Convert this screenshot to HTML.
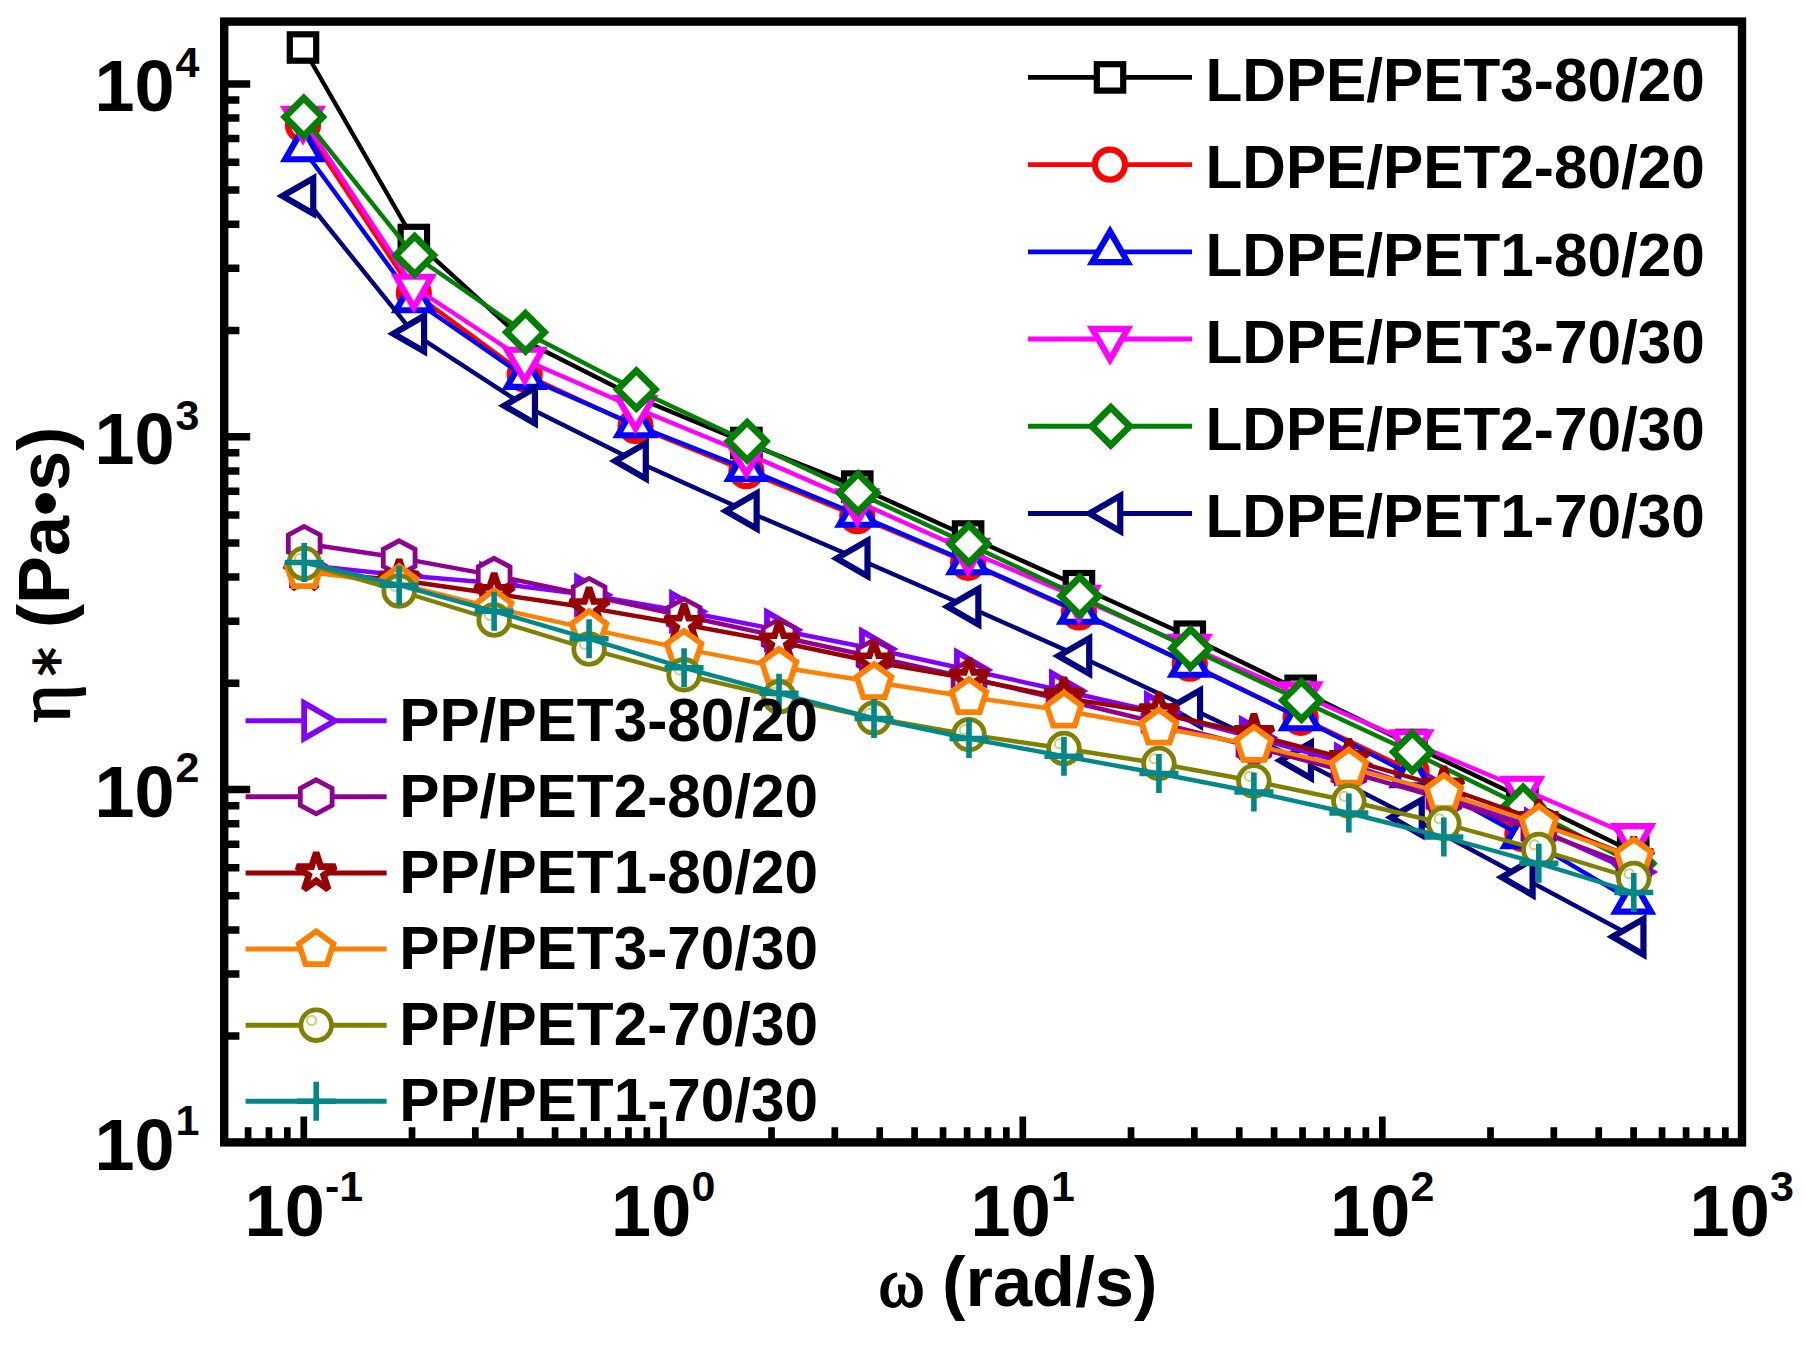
<!DOCTYPE html>
<html lang="en"><head><meta charset="utf-8"><title>Complex viscosity vs angular frequency</title>
<style>html,body{margin:0;padding:0;background:#fff}svg{display:block}text{font-family:"Liberation Sans",Arial,Helvetica,sans-serif;font-weight:700;fill:#000}.t{font-size:72px}.s{font-size:43px}.l{font-size:60.3px}.sym{font-family:"Liberation Serif","DejaVu Serif",serif;font-weight:400;stroke:#000;stroke-linejoin:round}.ast{font-family:"DejaVu Sans",sans-serif;font-weight:400;stroke:#000}</style></head><body>
<svg width="1804" height="1346" viewBox="0 0 1804 1346">
<rect width="1804" height="1346" fill="#fff"/>
<g stroke-linejoin="miter" stroke-linecap="butt">
<polyline points="303,47.5 413.85,240 524.7,341 635.55,397 746.4,443 857.25,486.6 968.1,536.5 1078.95,586.2 1189.8,636.7 1300.65,690.8 1411.5,745 1522.35,798 1633.2,852" fill="none" stroke="#000000" stroke-width="4.4" stroke-linejoin="round"/>
<rect x="289.8" y="34.3" width="26.4" height="26.4" fill="#fff" stroke="#000000" stroke-width="6.2"/>
<rect x="400.65" y="226.8" width="26.4" height="26.4" fill="#fff" stroke="#000000" stroke-width="6.2"/>
<rect x="733.2" y="429.8" width="26.4" height="26.4" fill="#fff" stroke="#000000" stroke-width="6.2"/>
<rect x="844.05" y="473.4" width="26.4" height="26.4" fill="#fff" stroke="#000000" stroke-width="6.2"/>
<rect x="954.9" y="523.3" width="26.4" height="26.4" fill="#fff" stroke="#000000" stroke-width="6.2"/>
<rect x="1065.75" y="573" width="26.4" height="26.4" fill="#fff" stroke="#000000" stroke-width="6.2"/>
<rect x="1176.6" y="623.5" width="26.4" height="26.4" fill="#fff" stroke="#000000" stroke-width="6.2"/>
<rect x="1287.45" y="677.6" width="26.4" height="26.4" fill="#fff" stroke="#000000" stroke-width="6.2"/>
<rect x="1398.3" y="731.8" width="26.4" height="26.4" fill="#fff" stroke="#000000" stroke-width="6.2"/>
<rect x="1509.15" y="784.8" width="26.4" height="26.4" fill="#fff" stroke="#000000" stroke-width="6.2"/>
<rect x="1620" y="838.8" width="26.4" height="26.4" fill="#fff" stroke="#000000" stroke-width="6.2"/>
<polyline points="303,125 413.85,293 524.7,374.5 635.55,426 746.4,471.2 857.25,516.2 968.1,562.8 1078.95,612.4 1189.8,663.7 1300.65,717.8 1411.5,771 1522.35,834" fill="none" stroke="#ff0000" stroke-width="4.4" stroke-linejoin="round"/>
<circle cx="303" cy="125" r="15" fill="#fff" stroke="#ff0000" stroke-width="6.2"/>
<circle cx="413.85" cy="293" r="15" fill="#fff" stroke="#ff0000" stroke-width="6.2"/>
<circle cx="524.7" cy="374.5" r="15" fill="#fff" stroke="#ff0000" stroke-width="6.2"/>
<circle cx="635.55" cy="426" r="15" fill="#fff" stroke="#ff0000" stroke-width="6.2"/>
<circle cx="746.4" cy="471.2" r="15" fill="#fff" stroke="#ff0000" stroke-width="6.2"/>
<circle cx="857.25" cy="516.2" r="15" fill="#fff" stroke="#ff0000" stroke-width="6.2"/>
<circle cx="968.1" cy="562.8" r="15" fill="#fff" stroke="#ff0000" stroke-width="6.2"/>
<circle cx="1078.95" cy="612.4" r="15" fill="#fff" stroke="#ff0000" stroke-width="6.2"/>
<circle cx="1189.8" cy="663.7" r="15" fill="#fff" stroke="#ff0000" stroke-width="6.2"/>
<circle cx="1300.65" cy="717.8" r="15" fill="#fff" stroke="#ff0000" stroke-width="6.2"/>
<circle cx="1411.5" cy="771" r="15" fill="#fff" stroke="#ff0000" stroke-width="6.2"/>
<circle cx="1522.35" cy="834" r="15" fill="#fff" stroke="#ff0000" stroke-width="6.2"/>
<polyline points="303,149 413.85,300 524.7,376.7 635.55,425 746.4,468.7 857.25,514.5 968.1,562 1078.95,611.5 1189.8,664.5 1300.65,718 1411.5,775 1522.35,836 1633.2,901.3" fill="none" stroke="#0000ff" stroke-width="4.4" stroke-linejoin="round"/>
<polygon points="303,128.5 320.75,159.25 285.25,159.25" fill="#fff" stroke="#0000ff" stroke-width="6.2"/>
<polygon points="413.85,279.5 431.6,310.25 396.1,310.25" fill="#fff" stroke="#0000ff" stroke-width="6.2"/>
<polygon points="524.7,356.2 542.45,386.95 506.95,386.95" fill="#fff" stroke="#0000ff" stroke-width="6.2"/>
<polygon points="635.55,404.5 653.3,435.25 617.8,435.25" fill="#fff" stroke="#0000ff" stroke-width="6.2"/>
<polygon points="746.4,448.2 764.15,478.95 728.65,478.95" fill="#fff" stroke="#0000ff" stroke-width="6.2"/>
<polygon points="857.25,494 875,524.75 839.5,524.75" fill="#fff" stroke="#0000ff" stroke-width="6.2"/>
<polygon points="968.1,541.5 985.85,572.25 950.35,572.25" fill="#fff" stroke="#0000ff" stroke-width="6.2"/>
<polygon points="1078.95,591 1096.7,621.75 1061.2,621.75" fill="#fff" stroke="#0000ff" stroke-width="6.2"/>
<polygon points="1189.8,644 1207.55,674.75 1172.05,674.75" fill="#fff" stroke="#0000ff" stroke-width="6.2"/>
<polygon points="1300.65,697.5 1318.4,728.25 1282.9,728.25" fill="#fff" stroke="#0000ff" stroke-width="6.2"/>
<polygon points="1411.5,754.5 1429.25,785.25 1393.75,785.25" fill="#fff" stroke="#0000ff" stroke-width="6.2"/>
<polygon points="1522.35,815.5 1540.1,846.25 1504.6,846.25" fill="#fff" stroke="#0000ff" stroke-width="6.2"/>
<polygon points="1633.2,880.8 1650.95,911.55 1615.45,911.55" fill="#fff" stroke="#0000ff" stroke-width="6.2"/>
<polyline points="303,119 413.85,287 524.7,360 635.55,408 746.4,453.5 857.25,501.5 968.1,551 1078.95,598 1189.8,647 1300.65,694.7 1411.5,742.5 1522.35,789 1633.2,836.4" fill="none" stroke="#ff00ff" stroke-width="4.4" stroke-linejoin="round"/>
<polygon points="303,139.5 285.25,108.75 320.75,108.75" fill="#fff" stroke="#ff00ff" stroke-width="6.2"/>
<polygon points="413.85,307.5 396.1,276.75 431.6,276.75" fill="#fff" stroke="#ff00ff" stroke-width="6.2"/>
<polygon points="524.7,380.5 506.95,349.75 542.45,349.75" fill="#fff" stroke="#ff00ff" stroke-width="6.2"/>
<polygon points="635.55,428.5 617.8,397.75 653.3,397.75" fill="#fff" stroke="#ff00ff" stroke-width="6.2"/>
<polygon points="746.4,474 728.65,443.25 764.15,443.25" fill="#fff" stroke="#ff00ff" stroke-width="6.2"/>
<polygon points="857.25,522 839.5,491.25 875,491.25" fill="#fff" stroke="#ff00ff" stroke-width="6.2"/>
<polygon points="968.1,571.5 950.35,540.75 985.85,540.75" fill="#fff" stroke="#ff00ff" stroke-width="6.2"/>
<polygon points="1078.95,618.5 1061.2,587.75 1096.7,587.75" fill="#fff" stroke="#ff00ff" stroke-width="6.2"/>
<polygon points="1189.8,667.5 1172.05,636.75 1207.55,636.75" fill="#fff" stroke="#ff00ff" stroke-width="6.2"/>
<polygon points="1300.65,715.2 1282.9,684.45 1318.4,684.45" fill="#fff" stroke="#ff00ff" stroke-width="6.2"/>
<polygon points="1411.5,763 1393.75,732.25 1429.25,732.25" fill="#fff" stroke="#ff00ff" stroke-width="6.2"/>
<polygon points="1522.35,809.5 1504.6,778.75 1540.1,778.75" fill="#fff" stroke="#ff00ff" stroke-width="6.2"/>
<polygon points="1633.2,856.9 1615.45,826.15 1650.95,826.15" fill="#fff" stroke="#ff00ff" stroke-width="6.2"/>
<polyline points="303,117 413.85,255.3 524.7,332.3 635.55,389.6 746.4,441.2 857.25,492.7 968.1,544 1078.95,596 1189.8,648.3 1300.65,700.5 1411.5,752 1522.35,806 1633.2,863.5" fill="none" stroke="#008000" stroke-width="4.4" stroke-linejoin="round"/>
<polygon points="303.8,98.1 322.7,117 303.8,135.9 284.9,117" fill="#fff" stroke="#008000" stroke-width="6.8"/>
<polygon points="414.65,236.4 433.55,255.3 414.65,274.2 395.75,255.3" fill="#fff" stroke="#008000" stroke-width="6.8"/>
<polygon points="525.5,313.4 544.4,332.3 525.5,351.2 506.6,332.3" fill="#fff" stroke="#008000" stroke-width="6.8"/>
<polygon points="636.35,370.7 655.25,389.6 636.35,408.5 617.45,389.6" fill="#fff" stroke="#008000" stroke-width="6.8"/>
<polygon points="747.2,422.3 766.1,441.2 747.2,460.1 728.3,441.2" fill="#fff" stroke="#008000" stroke-width="6.8"/>
<polygon points="858.05,473.8 876.95,492.7 858.05,511.6 839.15,492.7" fill="#fff" stroke="#008000" stroke-width="6.8"/>
<polygon points="968.9,525.1 987.8,544 968.9,562.9 950,544" fill="#fff" stroke="#008000" stroke-width="6.8"/>
<polygon points="1079.75,577.1 1098.65,596 1079.75,614.9 1060.85,596" fill="#fff" stroke="#008000" stroke-width="6.8"/>
<polygon points="1190.6,629.4 1209.5,648.3 1190.6,667.2 1171.7,648.3" fill="#fff" stroke="#008000" stroke-width="6.8"/>
<polygon points="1301.45,681.6 1320.35,700.5 1301.45,719.4 1282.55,700.5" fill="#fff" stroke="#008000" stroke-width="6.8"/>
<polygon points="1412.3,733.1 1431.2,752 1412.3,770.9 1393.4,752" fill="#fff" stroke="#008000" stroke-width="6.8"/>
<polygon points="1523.15,787.1 1542.05,806 1523.15,824.9 1504.25,806" fill="#fff" stroke="#008000" stroke-width="6.8"/>
<polygon points="1634,844.6 1652.9,863.5 1634,882.4 1615.1,863.5" fill="#fff" stroke="#008000" stroke-width="6.8"/>
<polyline points="303,196 413.85,333.7 524.7,405.7 635.55,461 746.4,511 857.25,558.4 968.1,606.7 1078.95,656 1189.8,708 1300.65,760.5 1411.5,817.5 1522.35,877.3 1633.2,936.8" fill="none" stroke="#000080" stroke-width="4.4" stroke-linejoin="round"/>
<polygon points="282.5,196 313.25,178.25 313.25,213.75" fill="#fff" stroke="#000080" stroke-width="6.2"/>
<polygon points="393.35,333.7 424.1,315.95 424.1,351.45" fill="#fff" stroke="#000080" stroke-width="6.2"/>
<polygon points="504.2,405.7 534.95,387.95 534.95,423.45" fill="#fff" stroke="#000080" stroke-width="6.2"/>
<polygon points="615.05,461 645.8,443.25 645.8,478.75" fill="#fff" stroke="#000080" stroke-width="6.2"/>
<polygon points="725.9,511 756.65,493.25 756.65,528.75" fill="#fff" stroke="#000080" stroke-width="6.2"/>
<polygon points="836.75,558.4 867.5,540.65 867.5,576.15" fill="#fff" stroke="#000080" stroke-width="6.2"/>
<polygon points="947.6,606.7 978.35,588.95 978.35,624.45" fill="#fff" stroke="#000080" stroke-width="6.2"/>
<polygon points="1058.45,656 1089.2,638.25 1089.2,673.75" fill="#fff" stroke="#000080" stroke-width="6.2"/>
<polygon points="1169.3,708 1200.05,690.25 1200.05,725.75" fill="#fff" stroke="#000080" stroke-width="6.2"/>
<polygon points="1280.15,760.5 1310.9,742.75 1310.9,778.25" fill="#fff" stroke="#000080" stroke-width="6.2"/>
<polygon points="1391,817.5 1421.75,799.75 1421.75,835.25" fill="#fff" stroke="#000080" stroke-width="6.2"/>
<polygon points="1501.85,877.3 1532.6,859.55 1532.6,895.05" fill="#fff" stroke="#000080" stroke-width="6.2"/>
<polygon points="1612.7,936.8 1643.45,919.05 1643.45,954.55" fill="#fff" stroke="#000080" stroke-width="6.2"/>
<polyline points="304.2,565 399.17,575 494.14,583 589.11,595 684.08,611.5 779.05,630 874.02,649 968.99,670 1063.96,691 1158.93,712.5 1253.9,737.5 1348.87,764 1443.84,796 1538.81,829 1633.78,872" fill="none" stroke="#8000ff" stroke-width="4.4" stroke-linejoin="round"/>
<polygon points="322.9,565 292.15,582.75 292.15,547.25" fill="#fff" stroke="#8000ff" stroke-width="5.8"/>
<polygon points="417.87,575 387.12,592.75 387.12,557.25" fill="#fff" stroke="#8000ff" stroke-width="5.8"/>
<polygon points="512.84,583 482.09,600.75 482.09,565.25" fill="#fff" stroke="#8000ff" stroke-width="5.8"/>
<polygon points="607.81,595 577.06,612.75 577.06,577.25" fill="#fff" stroke="#8000ff" stroke-width="5.8"/>
<polygon points="702.78,611.5 672.03,629.25 672.03,593.75" fill="#fff" stroke="#8000ff" stroke-width="5.8"/>
<polygon points="797.75,630 767,647.75 767,612.25" fill="#fff" stroke="#8000ff" stroke-width="5.8"/>
<polygon points="892.72,649 861.97,666.75 861.97,631.25" fill="#fff" stroke="#8000ff" stroke-width="5.8"/>
<polygon points="987.69,670 956.94,687.75 956.94,652.25" fill="#fff" stroke="#8000ff" stroke-width="5.8"/>
<polygon points="1082.66,691 1051.91,708.75 1051.91,673.25" fill="#fff" stroke="#8000ff" stroke-width="5.8"/>
<polygon points="1177.63,712.5 1146.88,730.25 1146.88,694.75" fill="#fff" stroke="#8000ff" stroke-width="5.8"/>
<polygon points="1272.6,737.5 1241.85,755.25 1241.85,719.75" fill="#fff" stroke="#8000ff" stroke-width="5.8"/>
<polygon points="1367.57,764 1336.82,781.75 1336.82,746.25" fill="#fff" stroke="#8000ff" stroke-width="5.8"/>
<polygon points="1462.54,796 1431.79,813.75 1431.79,778.25" fill="#fff" stroke="#8000ff" stroke-width="5.8"/>
<polygon points="1557.51,829 1526.76,846.75 1526.76,811.25" fill="#fff" stroke="#8000ff" stroke-width="5.8"/>
<polygon points="1652.48,872 1621.73,889.75 1621.73,854.25" fill="#fff" stroke="#8000ff" stroke-width="5.8"/>
<polyline points="304.2,543.5 399.17,557.8 494.14,575.3 589.11,595.5 684.08,616 779.05,636.5 874.02,657 968.99,678 1063.96,700 1158.93,723 1253.9,747 1348.87,772 1443.84,799 1538.81,831 1633.78,867" fill="none" stroke="#8e008e" stroke-width="4.4" stroke-linejoin="round"/>
<polygon points="304.2,526.5 320.1,535 320.1,552 304.2,560.5 288.3,552 288.3,535" fill="#fff" stroke="#8e008e" stroke-width="4.8"/>
<polygon points="399.17,540.8 415.07,549.3 415.07,566.3 399.17,574.8 383.27,566.3 383.27,549.3" fill="#fff" stroke="#8e008e" stroke-width="4.8"/>
<polygon points="494.14,558.3 510.04,566.8 510.04,583.8 494.14,592.3 478.24,583.8 478.24,566.8" fill="#fff" stroke="#8e008e" stroke-width="4.8"/>
<polygon points="589.11,578.5 605.01,587 605.01,604 589.11,612.5 573.21,604 573.21,587" fill="#fff" stroke="#8e008e" stroke-width="4.8"/>
<polygon points="684.08,599 699.98,607.5 699.98,624.5 684.08,633 668.18,624.5 668.18,607.5" fill="#fff" stroke="#8e008e" stroke-width="4.8"/>
<polygon points="779.05,619.5 794.95,628 794.95,645 779.05,653.5 763.15,645 763.15,628" fill="#fff" stroke="#8e008e" stroke-width="4.8"/>
<polygon points="874.02,640 889.92,648.5 889.92,665.5 874.02,674 858.12,665.5 858.12,648.5" fill="#fff" stroke="#8e008e" stroke-width="4.8"/>
<polygon points="968.99,661 984.89,669.5 984.89,686.5 968.99,695 953.09,686.5 953.09,669.5" fill="#fff" stroke="#8e008e" stroke-width="4.8"/>
<polygon points="1063.96,683 1079.86,691.5 1079.86,708.5 1063.96,717 1048.06,708.5 1048.06,691.5" fill="#fff" stroke="#8e008e" stroke-width="4.8"/>
<polygon points="1158.93,706 1174.83,714.5 1174.83,731.5 1158.93,740 1143.03,731.5 1143.03,714.5" fill="#fff" stroke="#8e008e" stroke-width="4.8"/>
<polygon points="1253.9,730 1269.8,738.5 1269.8,755.5 1253.9,764 1238,755.5 1238,738.5" fill="#fff" stroke="#8e008e" stroke-width="4.8"/>
<polygon points="1348.87,755 1364.77,763.5 1364.77,780.5 1348.87,789 1332.97,780.5 1332.97,763.5" fill="#fff" stroke="#8e008e" stroke-width="4.8"/>
<polygon points="1443.84,782 1459.74,790.5 1459.74,807.5 1443.84,816 1427.94,807.5 1427.94,790.5" fill="#fff" stroke="#8e008e" stroke-width="4.8"/>
<polygon points="1538.81,814 1554.71,822.5 1554.71,839.5 1538.81,848 1522.91,839.5 1522.91,822.5" fill="#fff" stroke="#8e008e" stroke-width="4.8"/>
<polygon points="1633.78,850 1649.68,858.5 1649.68,875.5 1633.78,884 1617.88,875.5 1617.88,858.5" fill="#fff" stroke="#8e008e" stroke-width="4.8"/>
<polyline points="304.2,572 399.17,580 494.14,593.7 589.11,607.8 684.08,624.5 779.05,642 874.02,662 968.99,678.7 1063.96,697.8 1158.93,712.8 1253.9,734.5 1348.87,759.5 1443.84,787 1538.81,820.5 1633.78,857.5" fill="none" stroke="#960000" stroke-width="4.4" stroke-linejoin="round"/>
<polygon points="304.2,551.6 308.78,565.69 323.6,565.7 311.62,574.41 316.19,588.5 304.2,579.8 292.21,588.5 296.78,574.41 284.8,565.7 299.62,565.69" fill="#fff" stroke="#960000" stroke-width="6.6" stroke-miterlimit="2.6"/>
<polygon points="399.17,559.6 403.75,573.69 418.57,573.7 406.59,582.41 411.16,596.5 399.17,587.8 387.18,596.5 391.75,582.41 379.77,573.7 394.59,573.69" fill="#fff" stroke="#960000" stroke-width="6.6" stroke-miterlimit="2.6"/>
<polygon points="494.14,573.3 498.72,587.39 513.54,587.4 501.56,596.11 506.13,610.2 494.14,601.5 482.15,610.2 486.72,596.11 474.74,587.4 489.56,587.39" fill="#fff" stroke="#960000" stroke-width="6.6" stroke-miterlimit="2.6"/>
<polygon points="589.11,587.4 593.69,601.49 608.51,601.5 596.53,610.21 601.1,624.3 589.11,615.6 577.12,624.3 581.69,610.21 569.71,601.5 584.53,601.49" fill="#fff" stroke="#960000" stroke-width="6.6" stroke-miterlimit="2.6"/>
<polygon points="684.08,604.1 688.66,618.19 703.48,618.2 691.5,626.91 696.07,641 684.08,632.3 672.09,641 676.66,626.91 664.68,618.2 679.5,618.19" fill="#fff" stroke="#960000" stroke-width="6.6" stroke-miterlimit="2.6"/>
<polygon points="779.05,621.6 783.63,635.69 798.45,635.7 786.47,644.41 791.04,658.5 779.05,649.8 767.06,658.5 771.63,644.41 759.65,635.7 774.47,635.69" fill="#fff" stroke="#960000" stroke-width="6.6" stroke-miterlimit="2.6"/>
<polygon points="874.02,641.6 878.6,655.69 893.42,655.7 881.44,664.41 886.01,678.5 874.02,669.8 862.03,678.5 866.6,664.41 854.62,655.7 869.44,655.69" fill="#fff" stroke="#960000" stroke-width="6.6" stroke-miterlimit="2.6"/>
<polygon points="968.99,658.3 973.57,672.39 988.39,672.4 976.41,681.11 980.98,695.2 968.99,686.5 957,695.2 961.57,681.11 949.59,672.4 964.41,672.39" fill="#fff" stroke="#960000" stroke-width="6.6" stroke-miterlimit="2.6"/>
<polygon points="1063.96,677.4 1068.54,691.49 1083.36,691.5 1071.38,700.21 1075.95,714.3 1063.96,705.6 1051.97,714.3 1056.54,700.21 1044.56,691.5 1059.38,691.49" fill="#fff" stroke="#960000" stroke-width="6.6" stroke-miterlimit="2.6"/>
<polygon points="1158.93,692.4 1163.51,706.49 1178.33,706.5 1166.35,715.21 1170.92,729.3 1158.93,720.6 1146.94,729.3 1151.51,715.21 1139.53,706.5 1154.35,706.49" fill="#fff" stroke="#960000" stroke-width="6.6" stroke-miterlimit="2.6"/>
<polygon points="1253.9,714.1 1258.48,728.19 1273.3,728.2 1261.32,736.91 1265.89,751 1253.9,742.3 1241.91,751 1246.48,736.91 1234.5,728.2 1249.32,728.19" fill="#fff" stroke="#960000" stroke-width="6.6" stroke-miterlimit="2.6"/>
<polygon points="1348.87,739.1 1353.45,753.19 1368.27,753.2 1356.29,761.91 1360.86,776 1348.87,767.3 1336.88,776 1341.45,761.91 1329.47,753.2 1344.29,753.19" fill="#fff" stroke="#960000" stroke-width="6.6" stroke-miterlimit="2.6"/>
<polygon points="1443.84,766.6 1448.42,780.69 1463.24,780.7 1451.26,789.41 1455.83,803.5 1443.84,794.8 1431.85,803.5 1436.42,789.41 1424.44,780.7 1439.26,780.69" fill="#fff" stroke="#960000" stroke-width="6.6" stroke-miterlimit="2.6"/>
<polygon points="1538.81,800.1 1543.39,814.19 1558.21,814.2 1546.23,822.91 1550.8,837 1538.81,828.3 1526.82,837 1531.39,822.91 1519.41,814.2 1534.23,814.19" fill="#fff" stroke="#960000" stroke-width="6.6" stroke-miterlimit="2.6"/>
<polygon points="1633.78,837.1 1638.36,851.19 1653.18,851.2 1641.2,859.91 1645.77,874 1633.78,865.3 1621.79,874 1626.36,859.91 1614.38,851.2 1629.2,851.19" fill="#fff" stroke="#960000" stroke-width="6.6" stroke-miterlimit="2.6"/>
<polyline points="304.2,571 399.17,584 494.14,608 589.11,628.8 684.08,648.8 779.05,667 874.02,682 968.99,697 1063.96,710.5 1158.93,727.5 1253.9,744.8 1348.87,767.5 1443.84,793 1538.81,824 1633.78,857.2" fill="none" stroke="#ff8000" stroke-width="4.4" stroke-linejoin="round"/>
<polygon points="304.2,553.2 321.51,565.78 314.9,586.12 293.5,586.12 286.89,565.78" fill="#fff" stroke="#ff8000" stroke-width="5.8"/>
<polygon points="399.17,566.2 416.48,578.78 409.87,599.12 388.47,599.12 381.86,578.78" fill="#fff" stroke="#ff8000" stroke-width="5.8"/>
<polygon points="494.14,590.2 511.45,602.78 504.84,623.12 483.44,623.12 476.83,602.78" fill="#fff" stroke="#ff8000" stroke-width="5.8"/>
<polygon points="589.11,611 606.42,623.58 599.81,643.92 578.41,643.92 571.8,623.58" fill="#fff" stroke="#ff8000" stroke-width="5.8"/>
<polygon points="684.08,631 701.39,643.58 694.78,663.92 673.38,663.92 666.77,643.58" fill="#fff" stroke="#ff8000" stroke-width="5.8"/>
<polygon points="779.05,649.2 796.36,661.78 789.75,682.12 768.35,682.12 761.74,661.78" fill="#fff" stroke="#ff8000" stroke-width="5.8"/>
<polygon points="874.02,664.2 891.33,676.78 884.72,697.12 863.32,697.12 856.71,676.78" fill="#fff" stroke="#ff8000" stroke-width="5.8"/>
<polygon points="968.99,679.2 986.3,691.78 979.69,712.12 958.29,712.12 951.68,691.78" fill="#fff" stroke="#ff8000" stroke-width="5.8"/>
<polygon points="1063.96,692.7 1081.27,705.28 1074.66,725.62 1053.26,725.62 1046.65,705.28" fill="#fff" stroke="#ff8000" stroke-width="5.8"/>
<polygon points="1158.93,709.7 1176.24,722.28 1169.63,742.62 1148.23,742.62 1141.62,722.28" fill="#fff" stroke="#ff8000" stroke-width="5.8"/>
<polygon points="1253.9,727 1271.21,739.58 1264.6,759.92 1243.2,759.92 1236.59,739.58" fill="#fff" stroke="#ff8000" stroke-width="5.8"/>
<polygon points="1348.87,749.7 1366.18,762.28 1359.57,782.62 1338.17,782.62 1331.56,762.28" fill="#fff" stroke="#ff8000" stroke-width="5.8"/>
<polygon points="1443.84,775.2 1461.15,787.78 1454.54,808.12 1433.14,808.12 1426.53,787.78" fill="#fff" stroke="#ff8000" stroke-width="5.8"/>
<polygon points="1538.81,806.2 1556.12,818.78 1549.51,839.12 1528.11,839.12 1521.5,818.78" fill="#fff" stroke="#ff8000" stroke-width="5.8"/>
<polygon points="1633.78,839.4 1651.09,851.98 1644.48,872.32 1623.08,872.32 1616.47,851.98" fill="#fff" stroke="#ff8000" stroke-width="5.8"/>
<polyline points="304.2,563.5 399.17,591 494.14,620 589.11,649 684.08,674.8 779.05,697 874.02,718 968.99,734.6 1063.96,748.5 1158.93,763.5 1253.9,781 1348.87,801 1443.84,823.5 1538.81,849.5 1633.78,878.5" fill="none" stroke="#808000" stroke-width="4.4" stroke-linejoin="round"/>
<circle cx="304.2" cy="563.5" r="15.3" fill="#fff" stroke="#808000" stroke-width="4.8"/><circle cx="299.6" cy="558.7" r="4.6" fill="none" stroke="#cfcf8c" stroke-width="2.2"/>
<circle cx="399.17" cy="591" r="15.3" fill="#fff" stroke="#808000" stroke-width="4.8"/><circle cx="394.57" cy="586.2" r="4.6" fill="none" stroke="#cfcf8c" stroke-width="2.2"/>
<circle cx="494.14" cy="620" r="15.3" fill="#fff" stroke="#808000" stroke-width="4.8"/><circle cx="489.54" cy="615.2" r="4.6" fill="none" stroke="#cfcf8c" stroke-width="2.2"/>
<circle cx="589.11" cy="649" r="15.3" fill="#fff" stroke="#808000" stroke-width="4.8"/><circle cx="584.51" cy="644.2" r="4.6" fill="none" stroke="#cfcf8c" stroke-width="2.2"/>
<circle cx="684.08" cy="674.8" r="15.3" fill="#fff" stroke="#808000" stroke-width="4.8"/><circle cx="679.48" cy="670" r="4.6" fill="none" stroke="#cfcf8c" stroke-width="2.2"/>
<circle cx="779.05" cy="697" r="15.3" fill="#fff" stroke="#808000" stroke-width="4.8"/><circle cx="774.45" cy="692.2" r="4.6" fill="none" stroke="#cfcf8c" stroke-width="2.2"/>
<circle cx="874.02" cy="718" r="15.3" fill="#fff" stroke="#808000" stroke-width="4.8"/><circle cx="869.42" cy="713.2" r="4.6" fill="none" stroke="#cfcf8c" stroke-width="2.2"/>
<circle cx="968.99" cy="734.6" r="15.3" fill="#fff" stroke="#808000" stroke-width="4.8"/><circle cx="964.39" cy="729.8" r="4.6" fill="none" stroke="#cfcf8c" stroke-width="2.2"/>
<circle cx="1063.96" cy="748.5" r="15.3" fill="#fff" stroke="#808000" stroke-width="4.8"/><circle cx="1059.36" cy="743.7" r="4.6" fill="none" stroke="#cfcf8c" stroke-width="2.2"/>
<circle cx="1158.93" cy="763.5" r="15.3" fill="#fff" stroke="#808000" stroke-width="4.8"/><circle cx="1154.33" cy="758.7" r="4.6" fill="none" stroke="#cfcf8c" stroke-width="2.2"/>
<circle cx="1253.9" cy="781" r="15.3" fill="#fff" stroke="#808000" stroke-width="4.8"/><circle cx="1249.3" cy="776.2" r="4.6" fill="none" stroke="#cfcf8c" stroke-width="2.2"/>
<circle cx="1348.87" cy="801" r="15.3" fill="#fff" stroke="#808000" stroke-width="4.8"/><circle cx="1344.27" cy="796.2" r="4.6" fill="none" stroke="#cfcf8c" stroke-width="2.2"/>
<circle cx="1443.84" cy="823.5" r="15.3" fill="#fff" stroke="#808000" stroke-width="4.8"/><circle cx="1439.24" cy="818.7" r="4.6" fill="none" stroke="#cfcf8c" stroke-width="2.2"/>
<circle cx="1538.81" cy="849.5" r="15.3" fill="#fff" stroke="#808000" stroke-width="4.8"/><circle cx="1534.21" cy="844.7" r="4.6" fill="none" stroke="#cfcf8c" stroke-width="2.2"/>
<circle cx="1633.78" cy="878.5" r="15.3" fill="#fff" stroke="#808000" stroke-width="4.8"/><circle cx="1629.18" cy="873.7" r="4.6" fill="none" stroke="#cfcf8c" stroke-width="2.2"/>
<polyline points="304.2,562.5 399.17,585.2 494.14,611.3 589.11,638.8 684.08,667.8 779.05,693.3 874.02,718.5 968.99,738.5 1063.96,756.2 1158.93,773.5 1253.9,792 1348.87,813 1443.84,837 1538.81,863.3 1633.78,892.5" fill="none" stroke="#008888" stroke-width="4.4" stroke-linejoin="round"/>
<path d="M284.7 562.5H323.7M304.2 543V582" fill="none" stroke="#008888" stroke-width="5.6"/>
<path d="M379.67 585.2H418.67M399.17 565.7V604.7" fill="none" stroke="#008888" stroke-width="5.6"/>
<path d="M474.64 611.3H513.64M494.14 591.8V630.8" fill="none" stroke="#008888" stroke-width="5.6"/>
<path d="M569.61 638.8H608.61M589.11 619.3V658.3" fill="none" stroke="#008888" stroke-width="5.6"/>
<path d="M664.58 667.8H703.58M684.08 648.3V687.3" fill="none" stroke="#008888" stroke-width="5.6"/>
<path d="M759.55 693.3H798.55M779.05 673.8V712.8" fill="none" stroke="#008888" stroke-width="5.6"/>
<path d="M854.52 718.5H893.52M874.02 699V738" fill="none" stroke="#008888" stroke-width="5.6"/>
<path d="M949.49 738.5H988.49M968.99 719V758" fill="none" stroke="#008888" stroke-width="5.6"/>
<path d="M1044.46 756.2H1083.46M1063.96 736.7V775.7" fill="none" stroke="#008888" stroke-width="5.6"/>
<path d="M1139.43 773.5H1178.43M1158.93 754V793" fill="none" stroke="#008888" stroke-width="5.6"/>
<path d="M1234.4 792H1273.4M1253.9 772.5V811.5" fill="none" stroke="#008888" stroke-width="5.6"/>
<path d="M1329.37 813H1368.37M1348.87 793.5V832.5" fill="none" stroke="#008888" stroke-width="5.6"/>
<path d="M1424.34 837H1463.34M1443.84 817.5V856.5" fill="none" stroke="#008888" stroke-width="5.6"/>
<path d="M1519.31 863.3H1558.31M1538.81 843.8V882.8" fill="none" stroke="#008888" stroke-width="5.6"/>
<path d="M1614.28 892.5H1653.28M1633.78 873V912" fill="none" stroke="#008888" stroke-width="5.6"/>
</g>
<g stroke-linejoin="miter">
<line x1="1028" y1="77.4" x2="1192" y2="77.4" stroke="#000000" stroke-width="4.9"/>
<rect x="1096.8" y="64.2" width="26.4" height="26.4" fill="#fff" stroke="#000000" stroke-width="6.2"/>
<text class="l" x="1205.5" y="101.2">LDPE/PET3-80/20</text>
<line x1="1028" y1="164.62" x2="1192" y2="164.62" stroke="#ff0000" stroke-width="4.9"/>
<circle cx="1110" cy="164.62" r="15" fill="#fff" stroke="#ff0000" stroke-width="6.2"/>
<text class="l" x="1205.5" y="188.42">LDPE/PET2-80/20</text>
<line x1="1028" y1="251.84" x2="1192" y2="251.84" stroke="#0000ff" stroke-width="4.9"/>
<polygon points="1110,231.34 1127.75,262.09 1092.25,262.09" fill="#fff" stroke="#0000ff" stroke-width="6.2"/>
<text class="l" x="1205.5" y="275.64">LDPE/PET1-80/20</text>
<line x1="1028" y1="339.06" x2="1192" y2="339.06" stroke="#ff00ff" stroke-width="4.9"/>
<polygon points="1110,359.56 1092.25,328.81 1127.75,328.81" fill="#fff" stroke="#ff00ff" stroke-width="6.2"/>
<text class="l" x="1205.5" y="362.86">LDPE/PET3-70/30</text>
<line x1="1028" y1="426.28" x2="1192" y2="426.28" stroke="#008000" stroke-width="4.9"/>
<polygon points="1110.8,407.38 1129.7,426.28 1110.8,445.18 1091.9,426.28" fill="#fff" stroke="#008000" stroke-width="6.8"/>
<text class="l" x="1205.5" y="450.08">LDPE/PET2-70/30</text>
<line x1="1028" y1="513.5" x2="1192" y2="513.5" stroke="#000080" stroke-width="4.9"/>
<polygon points="1089.5,513.5 1120.25,495.75 1120.25,531.25" fill="#fff" stroke="#000080" stroke-width="6.2"/>
<text class="l" x="1205.5" y="537.3">LDPE/PET1-70/30</text>
<line x1="245.6" y1="720.7" x2="386.6" y2="720.7" stroke="#8000ff" stroke-width="4.9"/>
<polygon points="334.9,720.7 304.15,738.45 304.15,702.95" fill="#fff" stroke="#8000ff" stroke-width="5.8"/>
<text class="l" x="399.2" y="740.7">PP/PET3-80/20</text>
<line x1="245.6" y1="796.82" x2="386.6" y2="796.82" stroke="#8e008e" stroke-width="4.9"/>
<polygon points="316.2,779.82 332.1,788.32 332.1,805.32 316.2,813.82 300.3,805.32 300.3,788.32" fill="#fff" stroke="#8e008e" stroke-width="4.8"/>
<text class="l" x="399.2" y="816.82">PP/PET2-80/20</text>
<line x1="245.6" y1="872.94" x2="386.6" y2="872.94" stroke="#960000" stroke-width="4.9"/>
<polygon points="316.2,852.54 320.78,866.63 335.6,866.64 323.62,875.35 328.19,889.44 316.2,880.74 304.21,889.44 308.78,875.35 296.8,866.64 311.62,866.63" fill="#fff" stroke="#960000" stroke-width="6.6" stroke-miterlimit="2.6"/>
<text class="l" x="399.2" y="892.94">PP/PET1-80/20</text>
<line x1="245.6" y1="949.06" x2="386.6" y2="949.06" stroke="#ff8000" stroke-width="4.9"/>
<polygon points="316.2,931.26 333.51,943.84 326.9,964.18 305.5,964.18 298.89,943.84" fill="#fff" stroke="#ff8000" stroke-width="5.8"/>
<text class="l" x="399.2" y="969.06">PP/PET3-70/30</text>
<line x1="245.6" y1="1025.18" x2="386.6" y2="1025.18" stroke="#808000" stroke-width="4.9"/>
<circle cx="316.2" cy="1025.18" r="15.3" fill="#fff" stroke="#808000" stroke-width="4.8"/><circle cx="311.6" cy="1020.38" r="4.6" fill="none" stroke="#cfcf8c" stroke-width="2.2"/>
<text class="l" x="399.2" y="1045.18">PP/PET2-70/30</text>
<line x1="245.6" y1="1101.3" x2="386.6" y2="1101.3" stroke="#008888" stroke-width="4.9"/>
<path d="M296.7 1101.3H335.7M316.2 1081.8V1120.8" fill="none" stroke="#008888" stroke-width="5.6"/>
<text class="l" x="399.2" y="1121.3">PP/PET1-70/30</text>
</g>
<g stroke="#000" fill="none">
<path d="M248.11 1142.4V1127.2M268.96 1142.4V1127.2M287.35 1142.4V1127.2M303.8 1142.4V1116.4M412.02 1142.4V1127.2M475.33 1142.4V1127.2M520.24 1142.4V1127.2M555.08 1142.4V1127.2M583.55 1142.4V1127.2M607.61 1142.4V1127.2M628.46 1142.4V1127.2M646.85 1142.4V1127.2M663.3 1142.4V1116.4M771.52 1142.4V1127.2M834.83 1142.4V1127.2M879.74 1142.4V1127.2M914.58 1142.4V1127.2M943.05 1142.4V1127.2M967.11 1142.4V1127.2M987.96 1142.4V1127.2M1006.35 1142.4V1127.2M1022.8 1142.4V1116.4M1131.02 1142.4V1127.2M1194.33 1142.4V1127.2M1239.24 1142.4V1127.2M1274.08 1142.4V1127.2M1302.55 1142.4V1127.2M1326.61 1142.4V1127.2M1347.46 1142.4V1127.2M1365.85 1142.4V1127.2M1382.3 1142.4V1116.4M1490.52 1142.4V1127.2M1553.83 1142.4V1127.2M1598.74 1142.4V1127.2M1633.58 1142.4V1127.2M1662.05 1142.4V1127.2M1686.11 1142.4V1127.2M1706.96 1142.4V1127.2M1725.35 1142.4V1127.2" stroke-width="6.7"/>
<path d="M224.2 1036.1H239.4M224.2 973.97H239.4M224.2 929.89H239.4M224.2 895.7H239.4M224.2 867.77H239.4M224.2 844.15H239.4M224.2 823.69H239.4M224.2 805.64H239.4M224.2 789.5H250.2M224.2 683.3H239.4M224.2 621.17H239.4M224.2 577.09H239.4M224.2 542.9H239.4M224.2 514.97H239.4M224.2 491.35H239.4M224.2 470.89H239.4M224.2 452.84H239.4M224.2 436.7H250.2M224.2 330.5H239.4M224.2 268.37H239.4M224.2 224.29H239.4M224.2 190.1H239.4M224.2 162.17H239.4M224.2 138.55H239.4M224.2 118.09H239.4M224.2 100.04H239.4M224.2 83.9H250.2" stroke-width="7.5"/>
<rect x="224.2" y="21.6" width="1517.8" height="1120.8" stroke-width="8.4"/>
</g>
<text class="t" x="94.41" y="111.2">10<tspan class="s" dx="1" dy="-34.5">4</tspan></text>
<text class="t" x="94.41" y="464">10<tspan class="s" dx="1" dy="-34.5">3</tspan></text>
<text class="t" x="94.41" y="816.8">10<tspan class="s" dx="1" dy="-34.5">2</tspan></text>
<text class="t" x="94.41" y="1169.6">10<tspan class="s" dx="1" dy="-34.5">1</tspan></text>
<text class="t" x="244.6" y="1235.6">10<tspan class="s" dx="0.2" dy="-34.4">-1</tspan></text>
<text class="t" x="611.1" y="1235.6">10<tspan class="s" dx="0.2" dy="-34.4">0</tspan></text>
<text class="t" x="970.6" y="1235.6">10<tspan class="s" dx="0.2" dy="-34.4">1</tspan></text>
<text class="t" x="1330.1" y="1235.6">10<tspan class="s" dx="0.2" dy="-34.4">2</tspan></text>
<text class="t" x="1689.6" y="1235.6">10<tspan class="s" dx="0.2" dy="-34.4">3</tspan></text>
<text class="t" x="878.6" y="1306"><tspan class="sym" style="font-size:70px;stroke-width:1.9">ω </tspan><tspan x="942" y="1306.2" style="font-size:70.5px">(rad/s)</tspan></text>
<text class="t" transform="translate(69.2 722.5) rotate(-90)"><tspan class="sym" style="font-size:73px;stroke-width:2">η</tspan><tspan class="ast" style="font-size:45px;stroke-width:0.9" x="42" y="-8.7">∗ </tspan><tspan x="94.5" y="0">(Pa•s)</tspan></text>
</svg></body></html>
